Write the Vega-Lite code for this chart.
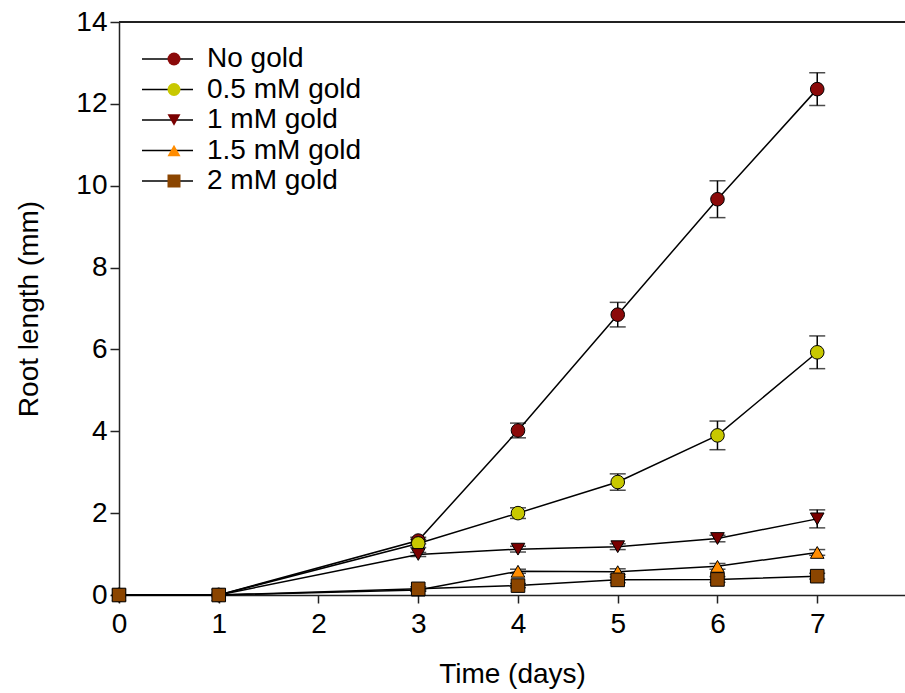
{
  "$schema": "https://vega.github.io/schema/vega-lite/v6.json",
  "width": 786,
  "height": 573,
  "autosize": "none",
  "padding": {"left": 119, "top": 22, "right": 0, "bottom": 98},
  "background": "white",
  "config": {
    "view": {"stroke": null},
    "font": "Liberation Sans",
    "axis": {
      "labelFont": "Liberation Sans",
      "titleFont": "Liberation Sans",
      "labelFontSize": 28,
      "titleFontSize": 28,
      "titleFontWeight": "normal",
      "labelColor": "black",
      "titleColor": "black",
      "domainColor": "#222",
      "tickColor": "#222",
      "domainWidth": 1.5,
      "tickWidth": 1.5,
      "tickSize": 9,
      "grid": false,
      "labelFlush": false
    },
    "legend": {
      "title": null,
      "padding": 0,
      "labelFont": "Liberation Sans",
      "labelFontSize": 28,
      "labelColor": "black",
      "clipHeight": 30,
      "rowPadding": 0.5,
      "symbolOpacity": 1
    }
  },
  "data": {
    "values": [
      {"series": "No gold", "day": 0, "len": 0, "err": 0},
      {"series": "No gold", "day": 1, "len": 0, "err": 0},
      {"series": "No gold", "day": 3, "len": 1.33, "err": 0.08},
      {"series": "No gold", "day": 4, "len": 4.02, "err": 0.18},
      {"series": "No gold", "day": 5, "len": 6.85, "err": 0.3},
      {"series": "No gold", "day": 6, "len": 9.67, "err": 0.45},
      {"series": "No gold", "day": 7, "len": 12.36, "err": 0.4},
      {"series": "0.5 mM gold", "day": 0, "len": 0, "err": 0},
      {"series": "0.5 mM gold", "day": 1, "len": 0, "err": 0},
      {"series": "0.5 mM gold", "day": 3, "len": 1.26, "err": 0.1},
      {"series": "0.5 mM gold", "day": 4, "len": 2.0, "err": 0.13},
      {"series": "0.5 mM gold", "day": 5, "len": 2.76, "err": 0.2},
      {"series": "0.5 mM gold", "day": 6, "len": 3.9, "err": 0.35},
      {"series": "0.5 mM gold", "day": 7, "len": 5.93, "err": 0.4},
      {"series": "1 mM gold", "day": 0, "len": 0, "err": 0},
      {"series": "1 mM gold", "day": 1, "len": 0, "err": 0},
      {"series": "1 mM gold", "day": 3, "len": 0.99, "err": 0.05},
      {"series": "1 mM gold", "day": 4, "len": 1.12, "err": 0.07},
      {"series": "1 mM gold", "day": 5, "len": 1.18, "err": 0.07},
      {"series": "1 mM gold", "day": 6, "len": 1.38, "err": 0.08},
      {"series": "1 mM gold", "day": 7, "len": 1.86, "err": 0.22},
      {"series": "1.5 mM gold", "day": 0, "len": 0, "err": 0},
      {"series": "1.5 mM gold", "day": 1, "len": 0, "err": 0},
      {"series": "1.5 mM gold", "day": 3, "len": 0.12, "err": 0.03},
      {"series": "1.5 mM gold", "day": 4, "len": 0.58, "err": 0.05},
      {"series": "1.5 mM gold", "day": 5, "len": 0.57, "err": 0.07},
      {"series": "1.5 mM gold", "day": 6, "len": 0.7, "err": 0.07},
      {"series": "1.5 mM gold", "day": 7, "len": 1.04, "err": 0.07},
      {"series": "2 mM gold", "day": 0, "len": 0, "err": 0},
      {"series": "2 mM gold", "day": 1, "len": 0, "err": 0},
      {"series": "2 mM gold", "day": 3, "len": 0.15, "err": 0.05},
      {"series": "2 mM gold", "day": 4, "len": 0.23, "err": 0.05},
      {"series": "2 mM gold", "day": 5, "len": 0.37, "err": 0.07},
      {"series": "2 mM gold", "day": 6, "len": 0.38, "err": 0.07},
      {"series": "2 mM gold", "day": 7, "len": 0.46, "err": 0.07}
    ]
  },
  "layer": [
    {
      "mark": {"type": "rule", "color": "#222", "strokeWidth": 1.5},
      "encoding": {"y": {"datum": 14, "type": "quantitative"}}
    },
    {
      "mark": {"type": "line", "strokeWidth": 1.5},
      "encoding": {
        "x": {
          "field": "day", "type": "quantitative",
          "scale": {"domain": [0, 7.88], "nice": false},
          "axis": {"values": [0, 1, 2, 3, 4, 5, 6, 7], "format": "d", "title": "Time (days)", "tickSize": 8, "labelPadding": 7, "titlePadding": 22}
        },
        "y": {
          "field": "len", "type": "quantitative",
          "scale": {"domain": [0, 14], "nice": false},
          "axis": {"values": [0, 2, 4, 6, 8, 10, 12, 14], "format": "d", "title": "Root length (mm)", "labelPadding": 3, "titlePadding": 32}
        },
        "color": {
          "field": "series", "type": "nominal",
          "sort": ["No gold", "0.5 mM gold", "1 mM gold", "1.5 mM gold", "2 mM gold"],
          "scale": {"range": ["black", "black", "black", "black", "black"]},
          "legend": {
            "orient": "top-left",
            "offset": 22,
            "symbolType": "stroke",
            "symbolSize": 2601,
            "symbolStrokeWidth": 1.5,
            "symbolStrokeColor": "black",
            "labelOffset": 13
          }
        }
      }
    },
    {
      "transform": [{"filter": "datum.err > 0"}],
      "mark": {"type": "errorbar", "color": "black", "thickness": 1.5, "ticks": {"size": 16, "color": "black", "thickness": 1.5}},
      "encoding": {
        "x": {"field": "day", "type": "quantitative", "title": "Time (days)"},
        "y": {"field": "len", "type": "quantitative", "title": "Root length (mm)"},
        "yError": {"field": "err"}
      }
    },
    {
      "mark": {"type": "point", "filled": true, "stroke": "black", "strokeWidth": 1, "opacity": 1, "size": 185},
      "encoding": {
        "x": {"field": "day", "type": "quantitative", "title": "Time (days)"},
        "y": {"field": "len", "type": "quantitative", "title": "Root length (mm)"},
        "shape": {
          "field": "series", "type": "nominal",
          "scale": {"domain": ["No gold", "0.5 mM gold", "1 mM gold", "1.5 mM gold", "2 mM gold"], "range": ["circle", "circle", "triangle-down", "triangle-up", "square"]},
          "legend": {
            "orient": "none",
            "legendX": 41,
            "legendY": 22,
            "symbolSize": 169,
            "symbolStrokeColor": "black",
            "symbolStrokeWidth": 1.3,
            "labelExpr": "''"
          }
        },
        "fill": {
          "field": "series", "type": "nominal",
          "scale": {"domain": ["No gold", "0.5 mM gold", "1 mM gold", "1.5 mM gold", "2 mM gold"], "range": ["#8B0A0A", "#C8C800", "#7A0000", "#FF8C00", "#8B4500"]},
          "legend": {
            "orient": "none",
            "legendX": 41,
            "legendY": 22,
            "symbolSize": 169,
            "symbolStrokeColor": "black",
            "symbolStrokeWidth": 1.3,
            "labelExpr": "''"
          }
        }
      }
    }
  ]
}
